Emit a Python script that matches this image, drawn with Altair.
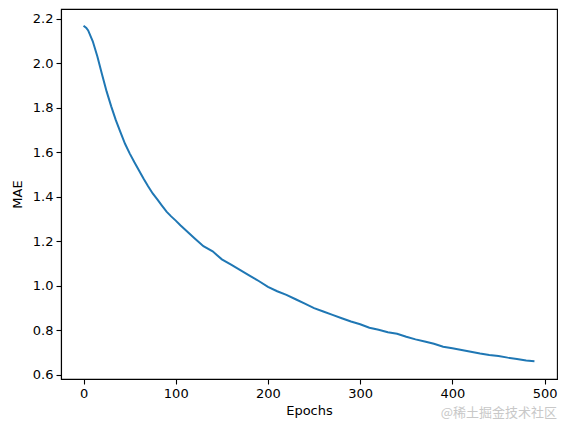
import altair as alt
import pandas as pd

epochs = [0, 3, 5, 10, 15, 20, 25, 30, 35, 40, 45, 50, 55, 60, 65, 70, 75, 80, 85, 90,
          95, 100, 105, 110, 120, 130, 140, 150, 160, 170, 180, 190, 200, 210, 220, 230,
          240, 250, 260, 270, 280, 290, 300, 310, 320, 330, 340, 350, 360, 370, 380,
          390, 400, 410, 420, 430, 440, 450, 460, 470, 480, 489]
mae = [2.168, 2.158, 2.147, 2.098, 2.03, 1.95, 1.873, 1.806, 1.744, 1.69, 1.638, 1.595,
       1.556, 1.519, 1.482, 1.447, 1.415, 1.388, 1.36, 1.333, 1.312, 1.293, 1.272, 1.253,
       1.215, 1.178, 1.155, 1.119, 1.095, 1.071, 1.046, 1.022, 0.996, 0.976, 0.96,
       0.94, 0.92, 0.9, 0.885, 0.87, 0.855, 0.84, 0.828, 0.812, 0.803, 0.792, 0.785,
       0.772, 0.76, 0.75, 0.74, 0.727, 0.72, 0.712, 0.704, 0.696, 0.69, 0.685, 0.678,
       0.672, 0.665, 0.662]
x_ticks = [0, 100, 200, 300, 400, 500]
y_ticks = [0.6, 0.8, 1.0, 1.2, 1.4, 1.6, 1.8, 2.0, 2.2]

df = pd.DataFrame({"Epochs": epochs, "MAE": mae})

font = "DejaVu Sans"

chart = alt.Chart(df, title=alt.TitleParams(
    "@稀土掘金技术社区", orient="bottom", anchor="end", font="Noto Sans CJK SC",
    fontSize=13, fontWeight="normal", color="#c8c8c8", offset=-10)).mark_line(
    color="#1f77b4", strokeWidth=2).encode(
    x=alt.X("Epochs:Q", scale=alt.Scale(domain=[-24.45, 513.45], nice=False, zero=False),
            axis=alt.Axis(values=x_ticks, title="Epochs", grid=False, format="d",
                          titleFontWeight="normal")),
    y=alt.Y("MAE:Q", scale=alt.Scale(domain=[0.582, 2.243], nice=False, zero=False),
            axis=alt.Axis(values=y_ticks, title="MAE", grid=False, format=".1f",
                          titleFontWeight="normal")),
).properties(
    width=496, height=370,
    background="white",
    autosize=alt.AutoSizeParams(type="none"),
    padding={"left": 53, "top": 1, "right": 2, "bottom": 45},
).configure_view(
    stroke="black", strokeWidth=1.1
).configure_axis(
    domainColor="black", domainWidth=1.1, tickColor="black", tickWidth=1.1, tickSize=5,
    labelFont=font, labelFontSize=13, labelColor="black", labelPadding=3,
    titleFont=font, titleFontSize=13, titleColor="black", titleFontWeight="normal",
).configure_axisX(
    titlePadding=4
).configure_axisY(
    titlePadding=8
)

chart.save("out.html", embed_options={"renderer": "svg", "actions": False})
